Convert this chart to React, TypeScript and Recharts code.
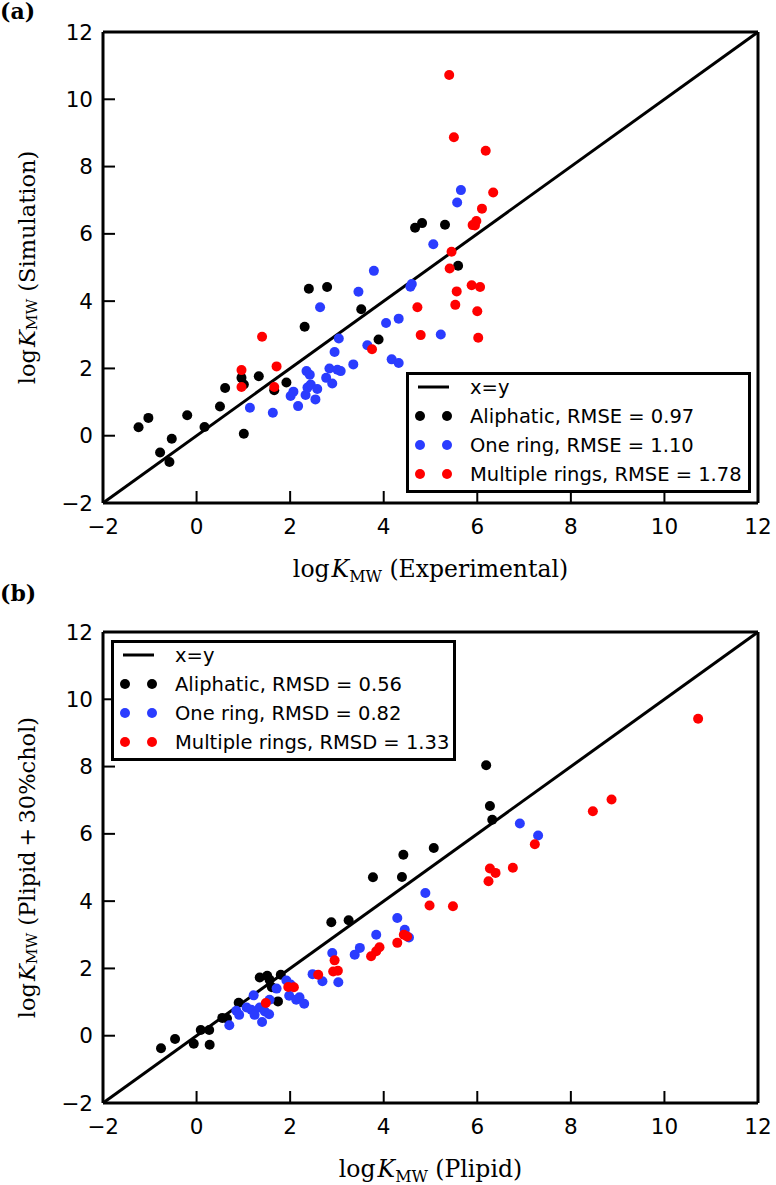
import React from "react"
import { ScatterChart, Scatter, XAxis, YAxis, ReferenceLine, Legend, Label } from "recharts"

// axis ticks shared by both panels
const ticks = [-2, 0, 2, 4, 6, 8, 10, 12]
const diagonal = [-2, 12]

// panel (a): simulation vs experimental
const aliphaticA: [number, number][] = [
  [-1.24, 0.25], [-1.03, 0.53], [-0.78, -0.5], [-0.58, -0.78], [-0.53, -0.09], [-0.2, 0.61],
  [0.17, 0.26], [0.5, 0.87], [0.61, 1.42], [0.96, 1.72], [1.01, 1.52], [1.01, 0.06],
  [1.33, 1.77], [1.66, 1.35], [1.92, 1.58], [2.31, 3.24], [2.4, 4.37], [2.79, 4.42],
  [3.52, 3.76], [3.89, 2.86], [4.67, 6.18], [4.82, 6.32], [5.31, 6.27], [5.59, 5.05],
]
const oneRingA: [number, number][] = [
  [1.14, 0.83], [1.63, 0.68], [2.01, 1.18], [2.07, 1.31], [2.17, 0.88], [2.35, 1.92],
  [2.42, 1.81], [2.33, 1.21], [2.37, 1.43], [2.44, 1.52], [2.54, 1.08], [2.58, 1.39],
  [2.64, 3.82], [2.77, 1.72], [2.84, 2.0], [2.9, 1.55], [2.95, 2.49], [3.04, 2.89],
  [3.01, 1.96], [3.08, 1.92], [3.35, 2.12], [3.46, 4.28], [3.65, 2.69], [3.79, 4.9],
  [4.05, 3.35], [4.17, 2.27], [4.32, 3.48], [4.32, 2.16], [4.57, 4.43], [4.6, 4.51],
  [5.06, 5.69], [5.22, 3.01], [5.57, 6.93], [5.65, 7.3],
]
const multiRingA: [number, number][] = [
  [0.96, 1.95], [0.96, 1.45], [1.4, 2.94], [1.71, 2.06], [1.66, 1.45], [3.75, 2.57],
  [4.72, 3.82], [4.79, 2.99], [5.4, 10.72], [5.5, 8.87], [6.18, 8.47], [6.34, 7.23],
  [6.1, 6.75], [5.9, 6.26], [5.98, 6.38], [5.95, 6.25], [5.45, 5.47], [5.41, 4.97],
  [5.56, 4.29], [5.88, 4.47], [6.06, 4.42], [5.53, 3.89], [6.0, 3.7], [6.02, 2.91],
]

// panel (b): Plipid+30%chol vs Plipid
const aliphaticB: [number, number][] = [
  [-0.76, -0.37], [-0.46, -0.1], [-0.06, -0.24], [0.09, 0.17], [0.27, 0.17], [0.28, -0.27],
  [0.55, 0.53], [0.65, 0.51], [0.9, 0.98], [1.35, 1.73], [1.51, 1.78], [1.56, 1.66],
  [1.61, 1.44], [1.8, 1.81], [1.74, 1.02], [2.88, 3.37], [3.25, 3.43], [3.77, 4.71],
  [4.39, 4.72], [4.42, 5.38], [5.07, 5.58], [6.19, 8.04], [6.27, 6.83], [6.32, 6.42],
]
const oneRingB: [number, number][] = [
  [0.7, 0.31], [0.85, 0.74], [0.91, 0.62], [1.07, 0.84], [1.22, 1.2], [1.17, 0.77],
  [1.24, 0.62], [1.35, 0.84], [1.4, 0.41], [1.46, 0.72], [1.55, 0.64], [1.56, 1.07],
  [1.71, 1.4], [1.92, 1.64], [1.98, 1.19], [2.01, 1.52], [2.13, 1.07], [2.2, 1.14],
  [2.3, 0.95], [2.48, 1.83], [2.69, 1.62], [2.9, 2.46], [3.03, 1.59], [3.38, 2.41],
  [3.49, 2.61], [3.84, 3.0], [4.29, 3.5], [4.45, 3.15], [4.54, 2.92], [4.89, 4.24],
  [6.91, 6.31], [7.3, 5.95],
]
const multiRingB: [number, number][] = [
  [1.48, 0.97], [1.96, 1.45], [2.08, 1.44], [2.6, 1.81], [2.92, 1.91], [3.02, 1.93],
  [2.95, 2.24], [3.73, 2.36], [3.84, 2.51], [3.91, 2.63], [4.29, 2.76], [4.43, 3.0],
  [4.5, 2.95], [4.98, 3.87], [5.48, 3.85], [6.24, 4.59], [6.27, 4.97], [6.39, 4.84],
  [6.76, 4.99], [7.23, 5.69], [8.47, 6.67], [8.87, 7.02], [10.72, 9.42],
]

const legendA = ["Aliphatic, RMSE = 0.97", "One ring, RMSE = 1.10", "Multiple rings, RMSE = 1.78"]
const legendB = ["Aliphatic, RMSD = 0.56", "One ring, RMSD = 0.82", "Multiple rings, RMSD = 1.33"]
const colors = ["#000000", "#2a3cff", "#ff0000"]

const sans = "'DejaVu Sans', sans-serif"
const serif = "'DejaVu Serif', serif"

const toPoints = (pairs: [number, number][]) => pairs.map(([x, y]) => ({ x, y }))
const fmt = (v: number) => (v < 0 ? `\u2212${-v}` : `${v}`)

const Dot = (color: string) => (props: any) => <circle cx={props.cx} cy={props.cy} r={5} fill={color} />

const mathLabel = (suffix: string) => (
  <>
    log<tspan dx={2} fontStyle="italic">K</tspan>
    <tspan fontSize="0.68em" dy={5}>MW</tspan>
    <tspan dy={-5}>{` (${suffix})`}</tspan>
  </>
)

const renderLegend = (labels: string[]) => () => (
  <svg width={345} height={121} style={{ display: "block", fontFamily: sans, fontSize: 19.5 }}>
    <rect x={1.5} y={1.5} width={342} height={118} fill="#fff" stroke="#000" strokeWidth={3} />
    <line x1={12} x2={43} y1={15} y2={15} stroke="#000" strokeWidth={3} />
    <text x={64} y={15} dominantBaseline="central">x=y</text>
    {labels.map((l, i) => (
      <g key={l}>
        <circle cx={14} cy={44 + i * 29} r={5} fill={colors[i]} />
        <circle cx={41} cy={44 + i * 29} r={5} fill={colors[i]} />
        <text x={64} y={44 + i * 29} dominantBaseline="central">{l}</text>
      </g>
    ))}
  </svg>
)

interface PanelProps {
  series: [number, number][][]
  labels: string[]
  xSuffix: string
  ySuffix: string
  height: number
  marginTop: number
  marginBottom: number
  legendLeft: number
  legendTop: number
}

function Panel({ series, labels, xSuffix, ySuffix, height, marginTop, marginBottom, legendLeft, legendTop }: PanelProps) {
  const axisLine = { stroke: "#000", strokeWidth: 3 }
  const tickLine = { stroke: "#000", strokeWidth: 2 }
  const tickStyle = { fill: "#000", fontSize: 21.5, fontFamily: sans }
  return (
    <ScatterChart width={776} height={height} margin={{ top: marginTop, right: 17, bottom: marginBottom, left: 43 }}>
      <XAxis
        type="number" dataKey="x" domain={[-2, 12]} ticks={ticks} interval={0} height={60}
        tickFormatter={fmt} tick={tickStyle} tickSize={-12} tickMargin={28}
        axisLine={axisLine} tickLine={tickLine}
      >
        <Label
          content={(p: any) => (
            <text x={p.viewBox.x + p.viewBox.width / 2} y={p.viewBox.y + 74} textAnchor="middle"
              style={{ fontFamily: serif, fontSize: 23.5 }} fill="#000">
              {mathLabel(xSuffix)}
            </text>
          )}
        />
      </XAxis>
      <XAxis xAxisId="top" orientation="top" type="number" dataKey="x" domain={[-2, 12]} ticks={ticks}
        interval={0} height={1} tick={false} tickSize={-12} axisLine={axisLine} tickLine={tickLine} />
      <YAxis
        type="number" dataKey="y" domain={[-2, 12]} ticks={ticks} interval={0} width={60}
        tickFormatter={fmt} tick={tickStyle} tickSize={-12} tickMargin={22}
        axisLine={axisLine} tickLine={tickLine}
      >
        <Label
          content={(p: any) => {
            const cy = p.viewBox.y + p.viewBox.height / 2
            return (
              <text transform={`translate(${p.viewBox.x - 16},${cy}) rotate(-90)`} textAnchor="middle"
                dominantBaseline="central" style={{ fontFamily: serif, fontSize: 22.5 }} fill="#000">
                {mathLabel(ySuffix)}
              </text>
            )
          }}
        />
      </YAxis>
      <YAxis yAxisId="right" orientation="right" type="number" dataKey="y" domain={[-2, 12]} ticks={ticks}
        interval={0} width={1} tick={false} tickSize={-12} axisLine={axisLine} tickLine={tickLine} />
      <ReferenceLine
        segment={[{ x: diagonal[0], y: diagonal[0] }, { x: diagonal[1], y: diagonal[1] }]}
        stroke="#000" strokeWidth={3} ifOverflow="extendDomain"
      />
      {series.map((s, i) => (
        <Scatter key={labels[i]} name={labels[i]} data={toPoints(s)} shape={Dot(colors[i])} isAnimationActive={false} />
      ))}
      <Legend
        layout="horizontal" verticalAlign="middle" align="center"
        wrapperStyle={{ left: legendLeft, top: legendTop, width: 345, height: 121 }}
        content={renderLegend(labels)}
      />
    </ScatterChart>
  )
}

export default function App() {
  const tag = { position: "absolute" as const, left: 0, fontFamily: serif, fontWeight: 700, fontSize: 22 }
  return (
    <div style={{ position: "absolute", top: 0, left: 0, width: 776, height: 1185, background: "#fff" }}>
      <div style={{ ...tag, top: -2 }}>(a)</div>
      <div style={{ position: "absolute", top: 0, left: 0 }}>
        <Panel series={[aliphaticA, oneRingA, multiRingA]} labels={legendA} xSuffix="Experimental"
          ySuffix="Simulation" height={590} marginTop={31} marginBottom={27} legendLeft={406} legendTop={372} />
      </div>
      <div style={{ ...tag, top: 580 }}>(b)</div>
      <div style={{ position: "absolute", top: 590, left: 0 }}>
        <Panel series={[aliphaticB, oneRingB, multiRingB]} labels={legendB} xSuffix="Plipid"
          ySuffix={"Plipid\u2009+\u200930%chol"} height={595} marginTop={41} marginBottom={22}
          legendLeft={111} legendTop={50} />
      </div>
    </div>
  )
}
